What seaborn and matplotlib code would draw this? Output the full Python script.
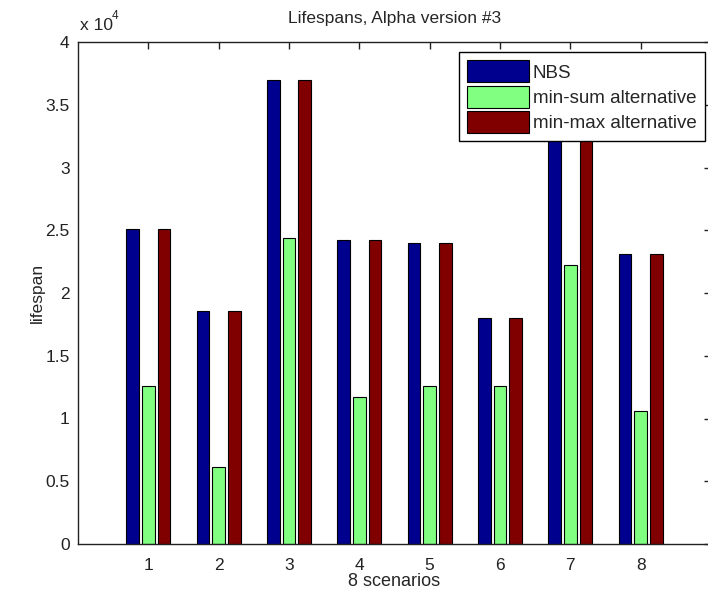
import matplotlib
matplotlib.use("Agg")
import matplotlib.pyplot as plt
import seaborn as sns
import pandas as pd

scenarios = ["1", "2", "3", "4", "5", "6", "7", "8"]
series_names = ["NBS", "min-sum alternative", "min-max alternative"]
nbs = [25100, 18600, 37000, 24200, 24000, 18000, 34000, 23100]
min_sum = [12600, 6100, 24400, 11700, 12600, 12600, 22200, 10600]
min_max = [25100, 18600, 37000, 24200, 24000, 18000, 34000, 23100]
ytick_vals = [0, 5000, 10000, 15000, 20000, 25000, 30000, 35000, 40000]
ytick_labels = ["0", "0.5", "1", "1.5", "2", "2.5", "3", "3.5", "4"]
colors = ["#00008F", "#80FF80", "#800000"]

rows = []
for name, vals in zip(series_names, [nbs, min_sum, min_max]):
    for s, v in zip(scenarios, vals):
        rows.append({"scenario": s, "series": name, "lifespan": v})
df = pd.DataFrame(rows)

sns.set_style("white")
plt.rcParams["font.family"] = ["Liberation Sans", "DejaVu Sans"]

fig = plt.figure(figsize=(7.08, 5.97), dpi=100)
ax = fig.add_axes([78 / 708, 1 - 544 / 597, (711 - 78) / 708, (544 - 42) / 597])

sns.barplot(data=df, x="scenario", y="lifespan", hue="series",
            order=scenarios, hue_order=series_names, palette=colors,
            width=0.667, gap=0.2, edgecolor="black", linewidth=0.8,
            saturation=1, ax=ax, errorbar=None)

ax.set_xlim(-1, 8)
ax.set_ylim(0, 40000)
ax.set_yticks(ytick_vals)
ax.set_yticklabels(ytick_labels)
ax.set_xticks(range(len(scenarios)))
ax.set_xticklabels(scenarios)
ax.tick_params(direction="in", length=5, width=1, top=True, right=True,
               labelsize=12.5, colors="#222222", pad=6)
ax.tick_params(axis="x", pad=10)
for sp in ax.spines.values():
    sp.set_color("#222222")
    sp.set_linewidth(1)
    sp.set_visible(True)

ax.set_xlabel("8 scenarios", fontsize=13, labelpad=0)
ax.set_ylabel("lifespan", fontsize=12.5, labelpad=0)
ax.set_title("Lifespans, Alpha version #3", fontsize=12.5, pad=14)
fig.text(80 / 708, 1 - 25 / 597, "x 10", fontsize=12.5, ha="left", va="center")
fig.text(112 / 708, 1 - 16 / 597, "4", fontsize=8.5, ha="left", va="center")

leg = ax.legend(loc="upper right", bbox_to_anchor=(705 / 708, 1 - 52 / 597),
                bbox_transform=fig.transFigure, fontsize=13.5, frameon=True,
                fancybox=False, framealpha=1, edgecolor="black",
                handlelength=3.3, handleheight=1.4, labelspacing=0.2,
                handletextpad=0.2, borderpad=0.45, borderaxespad=0)
leg.get_frame().set_linewidth(1)

fig.savefig("out.png", dpi=100)
